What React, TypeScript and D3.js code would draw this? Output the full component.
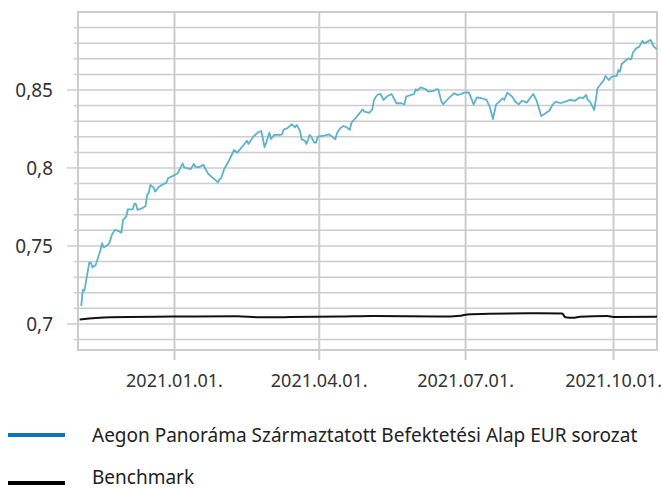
import React from "react";
import * as d3 from "d3";

const fundDates = [
  "2020-11-04","2020-11-05","2020-11-06","2020-11-09","2020-11-10","2020-11-11","2020-11-13","2020-11-16","2020-11-17","2020-11-18",
  "2020-11-21","2020-11-22","2020-11-23","2020-11-25","2020-11-27","2020-11-29","2020-11-30","2020-12-02","2020-12-03","2020-12-06",
  "2020-12-07","2020-12-08","2020-12-09","2020-12-12","2020-12-14","2020-12-15","2020-12-16","2020-12-17","2020-12-19","2020-12-20",
  "2020-12-22","2020-12-24","2020-12-27","2020-12-28","2020-12-31","2021-01-03","2021-01-06","2021-01-07","2021-01-11","2021-01-13",
  "2021-01-14","2021-01-16","2021-01-19","2021-01-20","2021-01-22","2021-01-24","2021-01-26","2021-01-28","2021-01-29","2021-01-30",
  "2021-02-01","2021-02-03","2021-02-05","2021-02-07","2021-02-09","2021-02-11","2021-02-13","2021-02-15","2021-02-16","2021-02-19",
  "2021-02-22","2021-02-24","2021-02-26","2021-02-27","2021-03-01","2021-03-02","2021-03-04","2021-03-08","2021-03-09","2021-03-10",
  "2021-03-12","2021-03-15","2021-03-17","2021-03-18","2021-03-20","2021-03-21","2021-03-23","2021-03-24","2021-03-25","2021-03-26",
  "2021-03-27","2021-03-29","2021-03-30","2021-03-31","2021-04-03","2021-04-07","2021-04-09","2021-04-11","2021-04-12","2021-04-14",
  "2021-04-16","2021-04-18","2021-04-20","2021-04-21","2021-04-24","2021-04-26","2021-04-28","2021-04-29","2021-05-02","2021-05-04",
  "2021-05-05","2021-05-07","2021-05-09","2021-05-11","2021-05-13","2021-05-16","2021-05-19","2021-05-22","2021-05-24","2021-05-25",
  "2021-05-28","2021-05-30","2021-05-31","2021-06-01","2021-06-03","2021-06-06","2021-06-08","2021-06-11","2021-06-13","2021-06-14",
  "2021-06-16","2021-06-17","2021-06-19","2021-06-21","2021-06-24","2021-06-26","2021-06-28","2021-06-30","2021-07-03","2021-07-06",
  "2021-07-08","2021-07-11","2021-07-14","2021-07-16","2021-07-18","2021-07-20","2021-07-22","2021-07-24","2021-07-25","2021-07-27",
  "2021-07-30","2021-08-01","2021-08-03","2021-08-05","2021-08-08","2021-08-10","2021-08-12","2021-08-14","2021-08-15","2021-08-17",
  "2021-08-19","2021-08-22","2021-08-24","2021-08-26","2021-08-29","2021-09-01","2021-09-04","2021-09-07","2021-09-10","2021-09-12",
  "2021-09-14","2021-09-15","2021-09-16","2021-09-19","2021-09-21","2021-09-25","2021-09-26","2021-09-28","2021-09-30","2021-10-03",
  "2021-10-04","2021-10-05","2021-10-06","2021-10-09","2021-10-10","2021-10-12","2021-10-13","2021-10-15","2021-10-17","2021-10-19",
  "2021-10-20","2021-10-22","2021-10-24","2021-10-26","2021-10-28"
];

const fundValues = [
  0.7115,0.7218,0.7214,0.7393,0.7393,0.7363,0.7378,0.7474,0.7517,0.749,
  0.7511,0.7534,0.757,0.7603,0.7596,0.7585,0.7667,0.7688,0.7735,0.7735,
  0.7769,0.7769,0.7731,0.7742,0.7756,0.7827,0.7842,0.7891,0.7874,0.7848,
  0.7876,0.7891,0.7906,0.7934,0.7949,0.7966,0.803,0.8004,0.7992,0.8026,
  0.8008,0.8004,0.8021,0.7998,0.7962,0.7944,0.7927,0.7908,0.7927,0.7934,
  0.7995,0.803,0.8072,0.8115,0.8098,0.8122,0.8147,0.8175,0.8154,0.8201,
  0.8229,0.8237,0.8133,0.8162,0.8226,0.8186,0.8212,0.8212,0.8218,0.8248,
  0.8254,0.828,0.8261,0.8276,0.8239,0.8184,0.8175,0.8154,0.818,0.8212,
  0.8201,0.8162,0.8162,0.8201,0.8205,0.8216,0.8201,0.8184,0.8222,0.8254,
  0.8269,0.8261,0.8244,0.829,0.8325,0.835,0.8376,0.8361,0.8354,0.8376,
  0.8436,0.8468,0.8476,0.8436,0.8458,0.8474,0.8415,0.8415,0.8408,0.8457,
  0.8468,0.8474,0.8506,0.8496,0.8517,0.8506,0.8489,0.8494,0.8506,0.8504,
  0.8425,0.8408,0.8431,0.8453,0.8479,0.8468,0.8474,0.8483,0.8485,0.8408,
  0.8453,0.8447,0.8436,0.8393,0.8314,0.8408,0.8425,0.8447,0.8436,0.8483,
  0.8457,0.8425,0.8408,0.8431,0.8419,0.8447,0.8474,0.8436,0.8404,0.8333,
  0.8346,0.8367,0.8404,0.8425,0.8415,0.8425,0.8436,0.8431,0.8453,0.8447,
  0.8468,0.8436,0.843,0.8372,0.8511,0.8564,0.859,0.8564,0.8585,0.859,
  0.8628,0.8617,0.8667,0.8692,0.8703,0.8697,0.8739,0.8767,0.8778,0.8816,
  0.8799,0.881,0.8821,0.8778,0.8761
];

const benchDates = [
  "2020-11-03","2020-11-13","2020-11-22","2020-12-31","2021-02-09","2021-02-23","2021-03-14","2021-04-14","2021-05-04","2021-06-15",
  "2021-06-28","2021-07-02","2021-07-16","2021-08-16","2021-08-30","2021-09-01","2021-09-06","2021-09-10","2021-09-27","2021-10-01","2021-10-28"
];
const benchValues = [
  0.7028,0.7038,0.7043,0.7047,0.705,0.7043,0.7044,0.7047,0.7051,0.7047,
  0.7053,0.7061,0.7066,0.7069,0.7067,0.7043,0.7039,0.7046,0.7051,0.7045,0.7047
];

const xTickDates = ["2021-01-01", "2021-04-01", "2021-07-01", "2021-10-01"];
const xTickLabels = ["2021.01.01.", "2021.04.01.", "2021.07.01.", "2021.10.01."];
const yMajorTicks = [0.7, 0.75, 0.8, 0.85];
const yMajorLabels = ["0,7", "0,75", "0,8", "0,85"];
const yMinorTicks = [0.69, 0.71, 0.72, 0.73, 0.74, 0.76, 0.77, 0.78, 0.79, 0.81, 0.82, 0.83, 0.84, 0.86, 0.87, 0.88, 0.89];
const xDomain = ["2020-11-02", "2021-10-28"];
const yDomain = [0.6833, 0.9];
const seriesNames = ["Aegon Panoráma Származtatott Befektetési Alap EUR sorozat", "Benchmark"];

const W = 661, H = 489;
const L = 78, R = 657, T = 12, B = 350;
const FONT = "'Noto Sans', sans-serif";
const GRID = "#cccccc";

export default function App() {
  const parse = d3.timeParse("%Y-%m-%d");
  const x = d3.scaleTime().domain(xDomain.map((d) => parse(d)!)).range([L, R]);
  const y = d3.scaleLinear().domain(yDomain).range([B, T]);
  const fund = fundDates.map((d, i) => ({ date: parse(d)!, v: fundValues[i] }));
  const bench = benchDates.map((d, i) => ({ date: parse(d)!, v: benchValues[i] }));
  const line = d3.line<{ date: Date; v: number }>().x((d) => x(d.date)).y((d) => y(d.v)).curve(d3.curveLinear);
  const benchLine = d3.line<{ date: Date; v: number }>().x((d) => x(d.date)).y((d) => y(d.v)).curve(d3.curveMonotoneX);

  return (
    <svg width={W} height={H} style={{ position: "absolute", left: 0, top: 0, background: "#fff" }}>
      {[...yMinorTicks, ...yMajorTicks].map((t) => (
        <line key={"g" + t} x1={L} x2={R} y1={y(t)} y2={y(t)} stroke={GRID} strokeWidth={1.5} />
      ))}
      {yMinorTicks.map((t) => (
        <line key={"mt" + t} x1={L - 4} x2={L} y1={y(t)} y2={y(t)} stroke={GRID} strokeWidth={1.5} />
      ))}
      {yMajorTicks.map((t, i) => (
        <g key={"Mt" + t}>
          <line x1={L - 11} x2={L} y1={y(t)} y2={y(t)} stroke={GRID} strokeWidth={1.5} />
          <text x={53} y={y(t)} dy="0.35em" textAnchor="end" fontFamily={FONT} fontSize={19} fill="#333">
            {yMajorLabels[i]}
          </text>
        </g>
      ))}
      {xTickDates.map((d, i) => {
        const px = x(parse(d)!);
        return (
          <g key={"x" + d}>
            <line x1={px} x2={px} y1={T} y2={B + 10} stroke={GRID} strokeWidth={2} />
            <text x={px} y={381} dy="0.35em" textAnchor="middle" fontFamily={FONT} fontSize={18} fill="#333">
              {xTickLabels[i]}
            </text>
          </g>
        );
      })}
      <rect x={L} y={T} width={R - L} height={B - T} fill="none" stroke={GRID} strokeWidth={2} />
      <path d={benchLine(bench)!} fill="none" stroke="#111" strokeWidth={2} />
      <path d={line(fund)!} fill="none" stroke="#5bb3cc" strokeWidth={1.8} strokeLinejoin="round" />
      <line x1={8} x2={65} y1={435} y2={435} stroke="#0e75bb" strokeWidth={4} />
      <text x={92} y={435} dy="0.35em" fontFamily={FONT} fontSize={19} fill="#222">{seriesNames[0]}</text>
      <line x1={8} x2={65} y1={483} y2={483} stroke="#000" strokeWidth={4} />
      <text x={92} y={477} dy="0.35em" fontFamily={FONT} fontSize={19} fill="#222">{seriesNames[1]}</text>
    </svg>
  );
}
